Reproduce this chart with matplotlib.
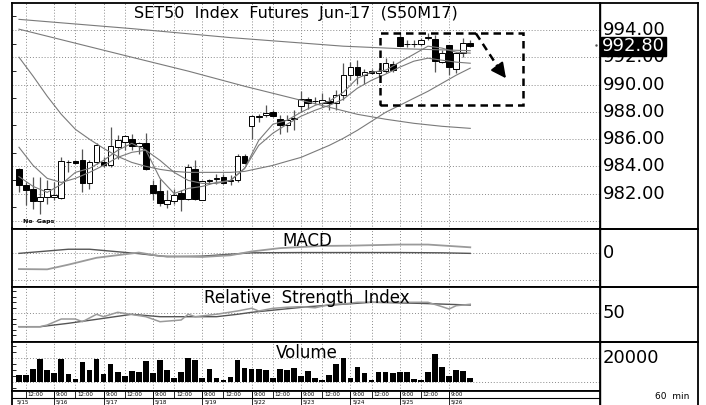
import numpy as np
import matplotlib
matplotlib.use("Agg")
import matplotlib.pyplot as plt
from matplotlib.ticker import MultipleLocator

# hourly bars, 5/15 11:00 .. 5/26 12:00
opens = [983.83, 982.65, 982.36, 981.43, 981.74, 981.74, 981.70, 984.30, 984.37, 984.49,
         982.77, 984.32, 984.32, 984.07, 985.42, 985.79, 986.04, 985.47, 985.74, 982.65,
         982.16, 981.26, 981.45, 982.04, 981.57, 983.83, 981.55, 982.95, 983.08, 983.21,
         982.95, 982.97, 984.76, 986.94, 987.65, 987.75, 988.00, 987.45, 987.01, 987.50,
         988.41, 988.93, 988.78, 988.65, 988.80, 988.65, 989.27, 990.69, 991.30, 990.69,
         990.98, 990.82, 990.98, 991.50, 993.51, 992.95, 993.00, 992.97, 993.45, 993.32,
         991.67, 992.90, 991.18, 992.29, 993.07]
highs = [983.90, 982.85, 983.21, 983.21, 982.97, 982.85, 984.68, 984.45, 984.44, 985.30,
         984.44, 985.71, 984.68, 986.89, 986.33, 986.28, 986.41, 985.79, 986.48, 982.97,
         983.10, 982.24, 982.36, 982.24, 984.20, 984.44, 982.97, 983.10, 983.46, 983.41,
         983.34, 984.93, 984.93, 987.75, 987.88, 988.49, 988.12, 987.75, 987.75, 988.12,
         989.52, 989.10, 989.07, 989.35, 989.10, 989.59, 991.55, 991.67, 991.79, 991.18,
         991.13, 991.21, 991.94, 991.72, 993.88, 993.26, 993.26, 993.41, 993.78, 993.63,
         992.53, 992.90, 992.41, 993.39, 993.26]
lows = [982.11, 981.13, 980.84, 980.54, 981.26, 981.50, 981.62, 983.60, 984.15, 982.11,
        982.36, 984.20, 983.95, 983.95, 984.57, 985.18, 985.18, 984.93, 983.71, 981.50,
        981.06, 980.98, 981.26, 980.76, 981.50, 981.50, 981.50, 982.73, 982.73, 982.73,
        982.60, 982.85, 984.15, 986.04, 987.26, 987.62, 987.60, 986.41, 986.52, 986.65,
        987.99, 988.24, 988.56, 988.36, 988.12, 988.12, 988.85, 990.32, 990.08, 990.08,
        990.77, 990.62, 990.82, 990.91, 992.82, 992.77, 992.77, 992.82, 993.26, 990.93,
        991.57, 990.69, 990.82, 992.04, 992.75]
closes = [982.65, 982.24, 981.43, 981.74, 982.36, 981.92, 984.37, 984.35, 984.24, 982.77,
          984.32, 985.54, 984.07, 985.47, 985.91, 986.21, 985.47, 985.74, 983.83, 982.04,
          981.30, 981.55, 981.92, 981.62, 983.95, 981.62, 982.92, 983.00, 983.12, 982.80,
          983.00, 984.76, 984.24, 987.68, 987.70, 987.92, 987.68, 987.01, 987.38, 987.53,
          988.98, 988.65, 988.80, 988.90, 988.65, 989.27, 990.69, 991.30, 990.69, 990.93,
          990.86, 991.01, 991.60, 991.06, 992.82, 993.00, 992.95, 993.26, 993.50, 991.74,
          992.29, 991.30, 992.29, 993.02, 992.80]
volumes = [5800, 5800, 10800, 19200, 10000, 7500, 19200, 6700, 2500, 16700,
           10000, 19200, 6700, 15000, 8300, 5000, 9200, 8300, 17500, 7500,
           18300, 10000, 3300, 8300, 20000, 18300, 3300, 10800, 3300, 1700,
           4200, 18300, 11700, 10800, 10800, 10000, 3300, 10800, 10000, 11700,
           5000, 9200, 3300, 1700, 5800, 15000, 20000, 3300, 12500, 7500,
           1700, 8700, 8300, 7800, 8300, 8600, 3100, 1900, 8100, 23600,
           12800, 5000, 9800, 8900, 3900]

# moving averages read at selected bars
ma_long_idx = [0, 16, 30, 46, 54, 64]
ma_long = [994.79, 994.11, 993.45, 992.82, 992.64, 992.49]
ma_mid_idx = [0, 8, 16, 24, 32, 40, 44, 48, 52, 56, 60, 64]
ma_mid = [994.07, 993.04, 992.01, 990.99, 989.88, 988.85, 988.34, 987.82, 987.46, 987.16, 986.94, 986.79]
ma_idx = list(range(0, 65, 2))
ma_slow = [992.01, 990.62, 989.15, 987.82, 986.72, 985.99, 985.32, 984.73, 984.29, 984.00,
           983.78, 983.63, 983.56, 983.56, 983.56, 983.56, 983.63, 983.85, 984.07, 984.37,
           984.66, 985.10, 985.54, 986.06, 986.65, 987.31, 987.97, 988.48, 989.00, 989.51,
           990.10, 990.69, 991.21]
ma_10 = [985.40, 984.07, 983.12, 982.82, 983.12, 983.56, 984.07, 984.66, 985.03, 985.18,
         984.44, 983.56, 982.97, 982.75, 982.75, 982.97, 983.85, 985.54, 986.43, 987.09,
         987.68, 988.12, 988.48, 988.93, 989.74, 990.32, 990.77, 991.28, 991.72, 991.94,
         991.79, 991.65, 991.57]
ma_5 = [983.25, 982.53, 982.09, 982.68, 983.56, 983.85, 984.44, 985.18, 985.69, 985.18,
        983.12, 982.01, 982.38, 982.53, 982.82, 982.97, 983.85, 985.91, 987.09, 987.38,
        987.97, 988.48, 988.78, 989.44, 990.47, 990.91, 991.06, 991.65, 992.23, 992.82,
        992.68, 992.38, 992.31]

macd_idx = [0, 4, 7, 11, 17, 20, 26, 30, 33, 37, 43, 47, 54, 58, 61, 64]
macd = [-0.60, -0.61, -0.44, -0.19, 0.0, -0.13, -0.16, -0.10, 0.04, 0.16, 0.24, 0.25, 0.29, 0.29, 0.24, 0.19]
signal_idx = [0, 7, 10, 17, 21, 26, 30, 33, 40, 47, 54, 60, 64]
signal = [-0.03, 0.12, 0.12, -0.04, -0.15, -0.13, -0.06, -0.01, 0.0, 0.0, 0.0, -0.01, -0.03]

rsi_idx = [0, 3, 4, 6, 8, 9, 11, 12, 14, 18, 20, 23, 24, 25, 28, 31, 33, 34, 36, 38,
           40, 42, 44, 46, 48, 50, 55, 58, 60, 61, 62, 64]
rsi = [25.6, 25.6, 28.7, 39.6, 39.6, 34.7, 48.2, 43.8, 51.8, 43.8, 34.7, 37.8, 48.2, 43.8,
       48.2, 54.2, 59.1, 54.2, 59.0, 61.0, 62.0, 60.0, 66.0, 67.0, 70.0, 70.0, 70.0, 70.0,
       62.0, 57.8, 63.8, 66.4]
rsi_avg_idx = [0, 3, 7, 11, 16, 20, 24, 28, 31, 33, 41, 50, 57, 64]
rsi_avg = [25.6, 25.6, 31.8, 39.0, 48.2, 43.8, 43.8, 43.8, 48.2, 51.8, 62.0, 70.0, 68.0, 65.0]

time_ticks = [1, 5, 8, 12, 15, 19, 22, 26, 29, 33, 36, 40, 43, 47, 50, 54, 57, 61]
time_labels = ['12:00'] + ['9:00', '12:00'] * 8 + ['9:00']
day_ticks = [5, 12, 19, 26, 33, 40, 47, 54, 61]
day_labels = ['5/16', '5/17', '5/18', '5/19', '5/22', '5/23', '5/24', '5/25', '5/26']
price_ticks = [982, 984, 986, 988, 990, 992, 994]
last_price = 992.80

W, H = 706, 405
fig = plt.figure(figsize=(W / 100, H / 100), dpi=100)
fig.patch.set_facecolor('white')


def add_ax(x0, x1, top, bottom):
    return fig.add_axes([x0 / W, 1 - bottom / H, (x1 - x0) / W, (bottom - top) / H])


XL, XR, XE = 12, 600, 698

# right label column (frames only, drawn underneath)
for top, bottom in [(3, 228.5), (228.5, 287), (287, 342), (342, 405)]:
    r = add_ax(XR, XE, top, bottom)
    r.patch.set_visible(False)
    r.set_zorder(-1)
    r.set_xticks([])
    r.set_yticks([])
    for s in r.spines.values():
        s.set_linewidth(1.3)
    r.spines['left'].set_linewidth(1.0)
    if bottom == 405:
        r.spines['bottom'].set_visible(False)
        r.text(0.735, 0.13, '60  min', fontsize=6.5, ha='center', va='center', transform=r.transAxes)

ax = add_ax(XL, XR, 3, 228.5)
ax_macd = add_ax(XL, XR, 228.5, 287)
ax_rsi = add_ax(XL, XR, 287, 342)
ax_vol = add_ax(XL, XR, 342, 390.7)
ax_time = add_ax(XL, XR, 390.7, 405)

xlim = (-0.99, 82.4)
grid_kw = dict(color='#8a8a8a', ls=(0, (1, 2)), lw=0.7)
for a in (ax, ax_macd, ax_rsi, ax_vol, ax_time):
    a.set_xlim(*xlim)
    a.set_xticks(time_ticks)
    a.tick_params(length=0, labelbottom=False, labelleft=False)
    for s in a.spines.values():
        s.set_linewidth(1.3)
for a in (ax, ax_macd, ax_rsi, ax_vol):
    a.grid(True, **grid_kw)
    a.set_axisbelow(True)
    a.yaxis.set_minor_locator(MultipleLocator(1))
    a.tick_params(which='minor', direction='in', length=3, width=0.6, left=True)

# ---- price panel ----
x = np.arange(len(opens))
o = np.array(opens); c = np.array(closes)
ax.vlines(x, lows, highs, color='#555555', lw=0.9, zorder=2)
face = ['white' if cc >= oo else 'black' for oo, cc in zip(o, c)]
ax.bar(x, np.abs(c - o), 0.8, bottom=np.minimum(o, c), color=face,
       edgecolor='black', lw=0.7, zorder=3)
for idx, vals in [(ma_long_idx, ma_long), (ma_mid_idx, ma_mid), (ma_idx, ma_slow),
                  (ma_idx, ma_10), (ma_idx, ma_5)]:
    ax.plot(idx, vals, color='#7a7a7a', lw=0.8, zorder=4)

ax.set_ylim(979.44, 995.99)
ax.set_yticks(price_ticks + [980])
ytr = ax.get_yaxis_transform()
for p in price_ticks:
    ax.text(1.005, p, f'{p:.2f}', transform=ytr, fontsize=13, va='center', ha='left')
ax.text(1.003, last_price, f'{last_price:.2f}', transform=ytr, fontsize=13, va='center',
        ha='left', color='white', zorder=10,
        bbox=dict(boxstyle='square,pad=0.05', fc='black', ec='black'))
ax.plot([1.0 - 0.006], [last_price + 0.12], marker='.', ms=1.5, color='#555555',
        transform=ytr, clip_on=False)
ax.text(0.483, 0.952, 'SET50  Index  Futures  Jun-17  (S50M17)', transform=ax.transAxes,
        fontsize=11.5, ha='center', va='center')
ax.text(0.018, 0.02, 'No  Gaps', transform=ax.transAxes, fontsize=4.5,
        fontweight='bold', ha='left', va='bottom')

# dashed box and arrow
ax.add_patch(plt.Rectangle((51.2, 988.54), 20.3, 5.26, fill=False, ec='black',
                           lw=1.8, ls=(0, (3.0, 2.0)), zorder=6))
ax.plot([64.8, 68.3], [993.76, 991.0], color='black', lw=1.8, ls=(0, (3.0, 2.0)), zorder=6)
ax.annotate('', xy=(69.3, 990.3), xytext=(68.3, 991.0),
            arrowprops=dict(arrowstyle='-|>,head_length=0.9,head_width=0.45',
                            color='black', lw=1.5), zorder=6)

# ---- MACD ----
ax_macd.plot(signal_idx, signal, color='#555555', lw=1.0)
ax_macd.plot(macd_idx, macd, color='#9a9a9a', lw=1.3)
ax_macd.set_ylim(-1.251, 0.873)
ax_macd.set_yticks([0, -1])
ax_macd.text(1.005, 0, '0', transform=ax_macd.get_yaxis_transform(), fontsize=13, va='center')
ax_macd.text(0.502, 0.78, 'MACD', transform=ax_macd.transAxes, fontsize=12,
             ha='center', va='center')

# ---- RSI ----
ax_rsi.plot(rsi_avg_idx, rsi_avg, color='#555555', lw=1.0)
ax_rsi.plot(rsi_idx, rsi, color='#9a9a9a', lw=1.1)
ax_rsi.set_ylim(-2.2, 97.8)
ax_rsi.set_yticks([50])
ax_rsi.yaxis.set_minor_locator(MultipleLocator(10))
ax_rsi.text(1.005, 50, '50', transform=ax_rsi.get_yaxis_transform(), fontsize=13, va='center')
ax_rsi.text(0.502, 0.795, 'Relative  Strength  Index', transform=ax_rsi.transAxes,
            fontsize=12, ha='center', va='center')

# ---- Volume ----
ax_vol.bar(x, volumes, 0.8, color='black', zorder=3)
ax_vol.set_ylim(-6917, 33083)
ax_vol.set_yticks([0, 20000])
ax_vol.yaxis.set_minor_locator(MultipleLocator(5000))
ax_vol.text(1.005, 20000, '20000', transform=ax_vol.get_yaxis_transform(), fontsize=13, va='center')
ax_vol.text(0.502, 0.768, 'Volume', transform=ax_vol.transAxes, fontsize=12,
            ha='center', va='center')

# ---- time axis ----
ax_time.set_ylim(0, 1)
ax_time.spines['bottom'].set_visible(False)
ax_time.axhline(0.49, color='black', lw=0.8)
for t, lab in zip(time_ticks, time_labels):
    ax_time.vlines(t, 0.49, 1, color='black', lw=0.6)
    ax_time.text(t + 0.25, 0.76, lab, fontsize=4.0, ha='left', va='center')
ax_time.vlines(day_ticks, 0, 1, color='black', lw=0.6)
for t, lab in zip([-0.55] + day_ticks, ['5/15'] + day_labels):
    ax_time.text(t + 0.25, 0.24, lab, fontsize=4.0, ha='left', va='center')

fig.savefig('out.png', dpi=100, facecolor='white')
